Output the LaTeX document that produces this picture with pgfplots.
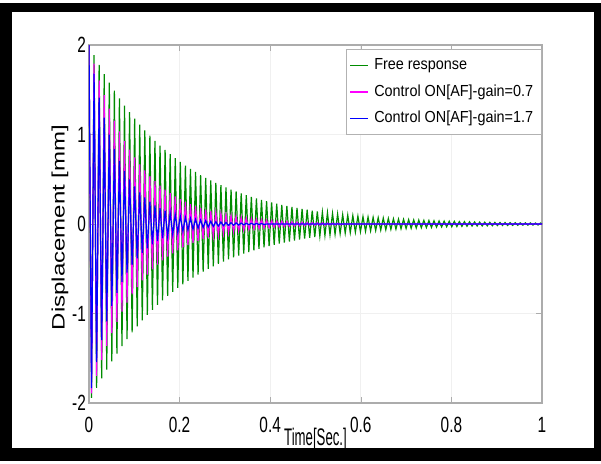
\documentclass[border=0pt]{standalone}
\usepackage{fontspec}
\usepackage{pgfplots}
\usepackage{pgfplotstable}
\pgfplotsset{compat=1.18}
\setmainfont{Liberation Sans}
\newfontfamily\tickfont{Liberation Sans}[FakeStretch=0.7]
\newfontfamily\labfont{Liberation Sans}[FakeStretch=0.55]
\newfontfamily\legfont{Liberation Sans}[FakeStretch=0.9]
\definecolor{mgreen}{RGB}{0,140,0}
\definecolor{mmag}{RGB}{255,0,255}
\definecolor{mblue}{RGB}{0,0,255}

% peaks of the three responses, one per half period
\pgfplotstableread{
t g m b
0 2.000 2.000 2.000
0.0056 -1.942 -1.893 -1.834
0.0112 1.886 1.792 1.681
0.0168 -1.831 -1.696 -1.542
0.0224 1.778 1.606 1.413
0.028 -1.726 -1.520 -1.296
0.0336 1.676 1.439 1.188
0.0392 -1.627 -1.362 -1.089
0.0448 1.580 1.289 0.999
0.0504 -1.534 -1.220 -0.916
0.056 1.490 1.155 0.840
0.0616 -1.447 -1.093 -0.770
0.0672 1.405 1.035 0.706
0.0728 -1.364 -0.980 -0.647
0.0784 1.324 0.927 0.593
0.084 -1.286 -0.878 -0.544
0.0896 1.249 0.831 0.499
0.0952 -1.212 -0.787 -0.457
0.1008 1.177 0.744 0.419
0.1064 -1.143 -0.705 -0.384
0.112 1.110 0.667 0.352
0.1176 -1.078 -0.631 -0.323
0.1232 1.046 0.598 0.296
0.1288 -1.016 -0.566 -0.272
0.1344 0.987 0.536 0.249
0.14 -0.958 -0.507 -0.228
0.1456 0.930 0.480 0.209
0.1512 -0.903 -0.454 -0.192
0.1568 0.877 0.430 0.176
0.1624 -0.852 -0.407 -0.161
0.168 0.827 0.385 0.148
0.1736 -0.803 -0.365 -0.136
0.1792 0.780 0.345 0.124
0.1848 -0.757 -0.327 -0.114
0.1904 0.735 0.309 0.105
0.196 -0.714 -0.293 -0.096
0.2016 0.693 0.277 0.088
0.2072 -0.673 -0.262 -0.081
0.2128 0.653 0.248 0.074
0.2184 -0.634 -0.235 -0.068
0.224 0.616 0.222 0.062
0.2296 -0.598 -0.211 -0.057
0.2352 0.581 0.199 0.052
0.2408 -0.564 -0.189 -0.048
0.2464 0.547 0.179 0.044
0.252 -0.532 -0.169 -0.040
0.2576 0.516 0.160 0.037
0.2632 -0.501 -0.151 -0.034
0.2688 0.487 0.143 0.031
0.2744 -0.473 -0.136 -0.028
0.28 0.459 0.128 0.026
0.2856 -0.446 -0.122 -0.024
0.2912 0.433 0.115 0.022
0.2968 -0.420 -0.109 -0.020
0.3024 0.408 0.103 0.018
0.308 -0.396 -0.098 -0.017
0.3136 0.385 0.092 0.015
0.3192 -0.373 -0.087 -0.014
0.3248 0.363 0.083 0.013
0.3304 -0.352 -0.078 -0.012
0.336 0.342 0.074 0.011
0.3416 -0.332 -0.070 -0.010
0.3472 0.322 0.066 0.009
0.3528 -0.313 -0.063 -0.008
0.3584 0.304 0.060 0.008
0.364 -0.295 -0.056 -0.007
0.3696 0.286 0.053 0.007
0.3752 -0.278 -0.051 -0.006
0.3808 0.270 0.048 0.005
0.3864 -0.262 -0.045 -0.005
0.392 0.255 0.043 0
0.3976 -0.247 -0.041 0
0.4032 0.240 0.038 0
0.4088 -0.233 -0.036 0
0.4144 0.226 0.034 0
0.42 -0.220 -0.033 0
0.4256 0.213 0.031 0
0.4312 -0.207 -0.029 0
0.4368 0.201 0.028 0
0.4424 -0.195 -0.026 0
0.448 0.190 0.025 0
0.4536 -0.184 -0.023 0
0.4592 0.179 0.022 0
0.4648 -0.174 -0.021 0
0.4704 0.169 0.020 0
0.476 -0.164 -0.019 0
0.4816 0.159 0.018 0
0.4872 -0.154 -0.017 0
0.4928 0.150 0.016 0
0.4984 -0.146 -0.015 0
0.504 0.141 0.014 0
0.5096 -0.137 -0.014 0
0.5152 0.133 0.013 0
0.5208 -0.129 -0.012 0
0.5264 0.126 0.011 0
0.532 -0.122 -0.011 0
0.5376 0.118 0.010 0
0.5432 -0.115 -0.010 0
0.5488 0.112 0.009 0
0.5544 -0.108 -0.009 0
0.56 0.105 0 0
0.5656 -0.102 0 0
0.5712 0.099 0 0
0.5768 -0.096 0 0
0.5824 0.094 0 0
0.588 -0.091 0 0
0.5936 0.088 0 0
0.5992 -0.086 0 0
0.6048 0.083 0 0
0.6104 -0.081 0 0
0.616 0.078 0 0
0.6216 -0.076 0 0
0.6272 0.074 0 0
0.6328 -0.072 0 0
0.6384 0.070 0 0
0.644 -0.068 0 0
0.6496 0.066 0 0
0.6552 -0.064 0 0
0.6608 0.062 0 0
0.6664 -0.060 0 0
0.672 0.058 0 0
0.6776 -0.057 0 0
0.6832 0.055 0 0
0.6888 -0.053 0 0
0.6944 0.052 0 0
0.70 -0.050 0 0
0.7056 0.049 0 0
0.7112 -0.048 0 0
0.7168 0.046 0 0
0.7224 -0.045 0 0
0.728 0.044 0 0
0.7336 -0.042 0 0
0.7392 0.041 0 0
0.7448 -0.040 0 0
0.7504 0.039 0 0
0.756 -0.038 0 0
0.7616 0.036 0 0
0.7672 -0.035 0 0
0.7728 0.034 0 0
0.7784 -0.033 0 0
0.784 0.032 0 0
0.7896 -0.031 0 0
0.7952 0.031 0 0
0.8008 -0.030 0 0
0.8064 0.029 0 0
0.812 -0.028 0 0
0.8176 0.027 0 0
0.8232 -0.026 0 0
0.8288 0.026 0 0
0.8344 -0.025 0 0
0.84 0.024 0 0
0.8456 -0.023 0 0
0.8512 0.023 0 0
0.8568 -0.022 0 0
0.8624 0.021 0 0
0.868 -0.021 0 0
0.8736 0.020 0 0
0.8792 -0.020 0 0
0.8848 0.019 0 0
0.8904 -0.019 0 0
0.896 0.018 0 0
0.9016 -0.017 0 0
0.9072 0.017 0 0
0.9128 -0.016 0 0
0.9184 0.016 0 0
0.924 -0.016 0 0
0.9296 0.015 0 0
0.9352 -0.015 0 0
0.9408 0.014 0 0
0.9464 -0.014 0 0
0.952 0.013 0 0
0.9576 -0.013 0 0
0.9632 0.013 0 0
0.9688 -0.012 0 0
0.9744 0.012 0 0
0.98 -0.012 0 0
0.9856 0.011 0 0
0.9912 -0.011 0 0
0.9968 0.011 0 0
1 0 0 0
}\resp

\begin{document}
\begin{tikzpicture}
% black frame round the figure
\fill[black] (0,1pt) rectangle (300.5pt,230pt);
\fill[white] (6pt,7.5pt) rectangle (297pt,225.5pt);
\path (0,0) rectangle (300.5pt,231.5pt);
\begin{axis}[
  at={(44.5pt,30pt)}, anchor=south west,
  scale only axis, width=226.5pt, height=179pt,
  xmin=0, xmax=1, ymin=-2, ymax=2,
  xtick={0,0.2,0.4,0.6,0.8,1}, ytick={-2,-1,0,1,2},
  grid=major, grid style={gray!12, line width=0.5pt},
  axis line style={gray!65, line width=0.6pt},
  tick style={gray!65}, tick align=inside, major tick length=3pt,
  /pgf/number format/assume math mode=true,
  ticklabel style={font=\tickfont\fontsize{11}{12}\selectfont},
  xticklabel style={yshift=-3.5pt},
  yticklabel style={xshift=2pt},
  xlabel={Time[Sec.]},
  xlabel style={font=\labfont\fontsize{12}{13}\selectfont,
    at={(axis description cs:0.5,-0.1)}, anchor=center},
  ylabel={\scalebox{1}[0.75]{Displacement [mm]}},
  ylabel style={font=\fontsize{12}{14}\selectfont,
    at={(axis description cs:-0.064,0.49)}, anchor=center},
  legend cell align=left,
  legend style={at={(1,0.989)}, anchor=north east, draw=gray!60, fill=white,
    font=\legfont\fontsize{8}{9}\selectfont, inner sep=1.5pt,
    nodes={inner sep=2.7pt, text height=6pt, text depth=1.8pt}},
  legend image code/.code={\draw[#1, line width=0.7pt] (0pt,0pt) -- (9pt,0pt);},
]
\addplot[mgreen, line width=0.6pt] table[x=t, y=g] {\resp};
\addlegendentry{Free response}
\addplot[mmag, line width=0.6pt] table[x=t, y=m] {\resp};
\addlegendentry{Control ON[AF]-gain=0.7}
\addplot[mblue, line width=0.6pt] table[x=t, y=b] {\resp};
\addlegendentry{Control ON[AF]-gain=1.7}
\end{axis}
\end{tikzpicture}
\end{document}
